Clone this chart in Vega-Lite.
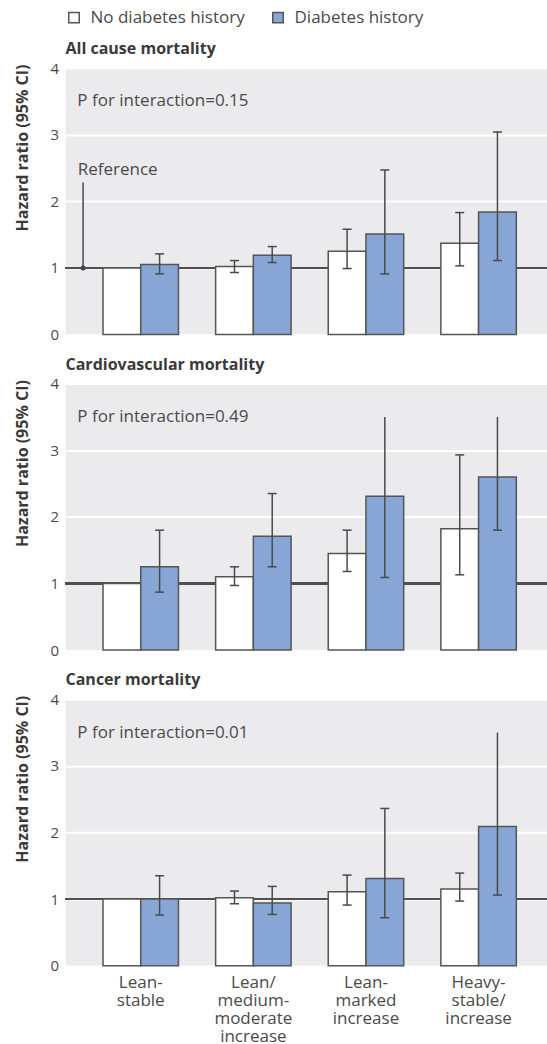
{
  "$schema": "https://vega.github.io/schema/vega-lite/v6.json",
  "padding": {"left": 14.5, "top": 9, "right": 0, "bottom": 0},
  "background": "white",
  "config": {
    "font": "Open Sans",
    "view": {"fill": "#ebebee", "stroke": null},
    "axis": {"labelFont": "Open Sans", "titleFont": "Open Sans"},
    "axisY": {"grid": true, "gridColor": "white", "gridWidth": 2, "ticks": false, "domain": false, "labelFontSize": 15, "labelColor": "#4a4a4a", "labelPadding": 7, "titleFontSize": 16, "titleFontWeight": "bold", "titleColor": "#3a3a3a", "titleAnchor": "end", "titleY": -4, "titlePadding": 19},
    "title": {"font": "Open Sans", "fontSize": 16, "fontWeight": "bold", "color": "#3a3a3a", "anchor": "start", "frame": "group", "baseline": "alphabetic", "offset": 0},
    "legend": {"labelFont": "Open Sans"}
  },
  "datasets": {
    "hr": [
      {"cause": "All cause mortality", "trajectory": "Lean-stable", "history": "No diabetes history", "hr": 1.0, "lo": null, "hi": null, "trunc": false},
      {"cause": "All cause mortality", "trajectory": "Lean-stable", "history": "Diabetes history", "hr": 1.05, "lo": 0.91, "hi": 1.21, "trunc": false},
      {"cause": "All cause mortality", "trajectory": "Lean/medium-moderate increase", "history": "No diabetes history", "hr": 1.02, "lo": 0.93, "hi": 1.11, "trunc": false},
      {"cause": "All cause mortality", "trajectory": "Lean/medium-moderate increase", "history": "Diabetes history", "hr": 1.19, "lo": 1.08, "hi": 1.32, "trunc": false},
      {"cause": "All cause mortality", "trajectory": "Lean-marked increase", "history": "No diabetes history", "hr": 1.25, "lo": 0.99, "hi": 1.58, "trunc": false},
      {"cause": "All cause mortality", "trajectory": "Lean-marked increase", "history": "Diabetes history", "hr": 1.51, "lo": 0.91, "hi": 2.47, "trunc": false},
      {"cause": "All cause mortality", "trajectory": "Heavy-stable/increase", "history": "No diabetes history", "hr": 1.37, "lo": 1.03, "hi": 1.83, "trunc": false},
      {"cause": "All cause mortality", "trajectory": "Heavy-stable/increase", "history": "Diabetes history", "hr": 1.84, "lo": 1.11, "hi": 3.04, "trunc": false},
      {"cause": "Cardiovascular mortality", "trajectory": "Lean-stable", "history": "No diabetes history", "hr": 1.0, "lo": null, "hi": null, "trunc": false},
      {"cause": "Cardiovascular mortality", "trajectory": "Lean-stable", "history": "Diabetes history", "hr": 1.25, "lo": 0.87, "hi": 1.8, "trunc": false},
      {"cause": "Cardiovascular mortality", "trajectory": "Lean/medium-moderate increase", "history": "No diabetes history", "hr": 1.1, "lo": 0.97, "hi": 1.25, "trunc": false},
      {"cause": "Cardiovascular mortality", "trajectory": "Lean/medium-moderate increase", "history": "Diabetes history", "hr": 1.71, "lo": 1.25, "hi": 2.35, "trunc": false},
      {"cause": "Cardiovascular mortality", "trajectory": "Lean-marked increase", "history": "No diabetes history", "hr": 1.45, "lo": 1.18, "hi": 1.8, "trunc": false},
      {"cause": "Cardiovascular mortality", "trajectory": "Lean-marked increase", "history": "Diabetes history", "hr": 2.31, "lo": 1.09, "hi": 3.5, "trunc": true},
      {"cause": "Cardiovascular mortality", "trajectory": "Heavy-stable/increase", "history": "No diabetes history", "hr": 1.82, "lo": 1.13, "hi": 2.93, "trunc": false},
      {"cause": "Cardiovascular mortality", "trajectory": "Heavy-stable/increase", "history": "Diabetes history", "hr": 2.6, "lo": 1.8, "hi": 3.5, "trunc": true},
      {"cause": "Cancer mortality", "trajectory": "Lean-stable", "history": "No diabetes history", "hr": 1.0, "lo": null, "hi": null, "trunc": false},
      {"cause": "Cancer mortality", "trajectory": "Lean-stable", "history": "Diabetes history", "hr": 1.0, "lo": 0.76, "hi": 1.35, "trunc": false},
      {"cause": "Cancer mortality", "trajectory": "Lean/medium-moderate increase", "history": "No diabetes history", "hr": 1.02, "lo": 0.93, "hi": 1.12, "trunc": false},
      {"cause": "Cancer mortality", "trajectory": "Lean/medium-moderate increase", "history": "Diabetes history", "hr": 0.94, "lo": 0.77, "hi": 1.19, "trunc": false},
      {"cause": "Cancer mortality", "trajectory": "Lean-marked increase", "history": "No diabetes history", "hr": 1.11, "lo": 0.91, "hi": 1.36, "trunc": false},
      {"cause": "Cancer mortality", "trajectory": "Lean-marked increase", "history": "Diabetes history", "hr": 1.31, "lo": 0.72, "hi": 2.36, "trunc": false},
      {"cause": "Cancer mortality", "trajectory": "Heavy-stable/increase", "history": "No diabetes history", "hr": 1.15, "lo": 0.97, "hi": 1.39, "trunc": false},
      {"cause": "Cancer mortality", "trajectory": "Heavy-stable/increase", "history": "Diabetes history", "hr": 2.09, "lo": 1.06, "hi": 3.5, "trunc": true}
    ],
    "notes": [
      {"cause": "All cause mortality", "note": "P for interaction=0.15", "trajectory": "Lean-stable"},
      {"cause": "Cardiovascular mortality", "note": "P for interaction=0.49", "trajectory": "Lean-stable"},
      {"cause": "Cancer mortality", "note": "P for interaction=0.01", "trajectory": "Lean-stable"}
    ],
    "ref": [
      {"cause": "All cause mortality", "trajectory": "Lean-stable", "label": "Reference", "base": 1.0, "top": 2.28, "textpos": 2.4}
    ]
  },
  "bounds": "flush",
  "spacing": 48.6,
  "vconcat": [
    {
      "width": 482, "height": 266.5,
      "title": {"text": "All cause mortality"},
      "layer": [
        {"data": {"name": "hr"}, "mark": {"type": "rule", "color": "#505050", "strokeWidth": 1.5}, "encoding": {"y": {"datum": 1, "type": "quantitative", "scale": {"domain": [0, 4]}, "axis": {"title": "Hazard ratio (95% CI)", "values": [0, 1, 2, 3, 4], "format": "d"}}}},
        {"data": {"name": "hr"}, "transform": [{"filter": "datum.cause == 'All cause mortality'"}], "mark": {"type": "bar", "stroke": "#555555", "strokeWidth": 1.5},
         "encoding": {
           "x": {"field": "trajectory", "type": "nominal", "sort": ["Lean-stable", "Lean/medium-moderate increase", "Lean-marked increase", "Heavy-stable/increase"], "scale": {"paddingInner": 0.33, "paddingOuter": 0.305, "align": 0.546}, "axis": null},
           "xOffset": {"field": "history", "type": "nominal", "sort": ["No diabetes history", "Diabetes history"], "scale": {"paddingInner": 0, "paddingOuter": 0}},
           "y": {"field": "hr", "type": "quantitative"},
           "fill": {"field": "history", "type": "nominal", "sort": ["No diabetes history", "Diabetes history"], "scale": {"domain": ["No diabetes history", "Diabetes history"], "range": ["#ffffff", "#87a6d6"]},
             "legend": {"orient": "top", "title": null, "labelFontSize": 17, "labelColor": "#4a4a4a", "symbolType": "square", "symbolSize": 110, "symbolStrokeColor": "#555555", "symbolStrokeWidth": 1.5, "labelOffset": 8, "columnPadding": 24, "offset": 15}}
         }},
        {"data": {"name": "hr"}, "transform": [{"filter": "datum.cause == 'All cause mortality' && datum.lo != null"}], "mark": {"type": "rule", "color": "#4a4a4a", "strokeWidth": 1.5},
         "encoding": {
           "x": {"field": "trajectory", "type": "nominal", "sort": ["Lean-stable", "Lean/medium-moderate increase", "Lean-marked increase", "Heavy-stable/increase"]},
           "xOffset": {"field": "history", "type": "nominal", "sort": ["No diabetes history", "Diabetes history"]},
           "y": {"field": "lo", "type": "quantitative"}, "y2": {"field": "hi"}
         }},
        {"data": {"name": "hr"}, "transform": [{"filter": "datum.cause == 'All cause mortality' && datum.lo != null"}], "mark": {"type": "tick", "orient": "horizontal", "color": "#4a4a4a", "size": 9, "thickness": 1.5, "opacity": 1},
         "encoding": {
           "x": {"field": "trajectory", "type": "nominal", "sort": ["Lean-stable", "Lean/medium-moderate increase", "Lean-marked increase", "Heavy-stable/increase"]},
           "xOffset": {"field": "history", "type": "nominal", "sort": ["No diabetes history", "Diabetes history"]},
           "y": {"field": "lo", "type": "quantitative"}
         }},
        {"data": {"name": "hr"}, "transform": [{"filter": "datum.cause == 'All cause mortality' && datum.hi != null && !datum.trunc"}], "mark": {"type": "tick", "orient": "horizontal", "color": "#4a4a4a", "size": 9, "thickness": 1.5, "opacity": 1},
         "encoding": {
           "x": {"field": "trajectory", "type": "nominal", "sort": ["Lean-stable", "Lean/medium-moderate increase", "Lean-marked increase", "Heavy-stable/increase"]},
           "xOffset": {"field": "history", "type": "nominal", "sort": ["No diabetes history", "Diabetes history"]},
           "y": {"field": "hi", "type": "quantitative"}
         }},
        {"data": {"name": "notes"}, "transform": [{"filter": "datum.cause == 'All cause mortality'"}], "mark": {"type": "text", "align": "left", "baseline": "middle", "fontSize": 17, "color": "#4a4a4a"},
         "encoding": {
           "x": {"field": "trajectory", "type": "nominal", "bandPosition": -0.34, "sort": ["Lean-stable", "Lean/medium-moderate increase", "Lean-marked increase", "Heavy-stable/increase"]},
           "y": {"datum": 3.5, "type": "quantitative"},
           "text": {"field": "note"}
         }},
        {"data": {"name": "ref"}, "mark": {"type": "rule", "color": "#4a4a4a", "strokeWidth": 1.5},
         "encoding": {
           "x": {"field": "trajectory", "type": "nominal", "bandPosition": -0.264, "sort": ["Lean-stable", "Lean/medium-moderate increase", "Lean-marked increase", "Heavy-stable/increase"]},
           "y": {"field": "base", "type": "quantitative"}, "y2": {"field": "top"}
         }},
        {"data": {"name": "ref"}, "mark": {"type": "point", "filled": true, "color": "#444444", "size": 25, "opacity": 1},
         "encoding": {
           "x": {"field": "trajectory", "type": "nominal", "bandPosition": -0.264, "sort": ["Lean-stable", "Lean/medium-moderate increase", "Lean-marked increase", "Heavy-stable/increase"]},
           "y": {"field": "base", "type": "quantitative"}
         }},
        {"data": {"name": "ref"}, "mark": {"type": "text", "align": "left", "baseline": "alphabetic", "fontSize": 17, "color": "#4a4a4a"},
         "encoding": {
           "x": {"field": "trajectory", "type": "nominal", "bandPosition": -0.336, "sort": ["Lean-stable", "Lean/medium-moderate increase", "Lean-marked increase", "Heavy-stable/increase"]},
           "y": {"field": "textpos", "type": "quantitative"},
           "text": {"field": "label"}
         }}
      ]
    },
    {
      "width": 482, "height": 266.5,
      "title": {"text": "Cardiovascular mortality"},
      "layer": [
        {"data": {"name": "hr"}, "mark": {"type": "rule", "color": "#505050", "strokeWidth": 1.5}, "encoding": {"y": {"datum": 1, "type": "quantitative", "scale": {"domain": [0, 4]}, "axis": {"title": "Hazard ratio (95% CI)", "values": [0, 1, 2, 3, 4], "format": "d"}}}},
        {"data": {"name": "hr"}, "transform": [{"filter": "datum.cause == 'Cardiovascular mortality'"}], "mark": {"type": "bar", "stroke": "#555555", "strokeWidth": 1.5},
         "encoding": {
           "x": {"field": "trajectory", "type": "nominal", "sort": ["Lean-stable", "Lean/medium-moderate increase", "Lean-marked increase", "Heavy-stable/increase"], "scale": {"paddingInner": 0.33, "paddingOuter": 0.305, "align": 0.546}, "axis": null},
           "xOffset": {"field": "history", "type": "nominal", "sort": ["No diabetes history", "Diabetes history"], "scale": {"paddingInner": 0, "paddingOuter": 0}},
           "y": {"field": "hr", "type": "quantitative"},
           "fill": {"field": "history", "type": "nominal", "sort": ["No diabetes history", "Diabetes history"]}
         }},
        {"data": {"name": "hr"}, "transform": [{"filter": "datum.cause == 'Cardiovascular mortality' && datum.lo != null"}], "mark": {"type": "rule", "color": "#4a4a4a", "strokeWidth": 1.5},
         "encoding": {
           "x": {"field": "trajectory", "type": "nominal", "sort": ["Lean-stable", "Lean/medium-moderate increase", "Lean-marked increase", "Heavy-stable/increase"]},
           "xOffset": {"field": "history", "type": "nominal", "sort": ["No diabetes history", "Diabetes history"]},
           "y": {"field": "lo", "type": "quantitative"}, "y2": {"field": "hi"}
         }},
        {"data": {"name": "hr"}, "transform": [{"filter": "datum.cause == 'Cardiovascular mortality' && datum.lo != null"}], "mark": {"type": "tick", "orient": "horizontal", "color": "#4a4a4a", "size": 9, "thickness": 1.5, "opacity": 1},
         "encoding": {
           "x": {"field": "trajectory", "type": "nominal", "sort": ["Lean-stable", "Lean/medium-moderate increase", "Lean-marked increase", "Heavy-stable/increase"]},
           "xOffset": {"field": "history", "type": "nominal", "sort": ["No diabetes history", "Diabetes history"]},
           "y": {"field": "lo", "type": "quantitative"}
         }},
        {"data": {"name": "hr"}, "transform": [{"filter": "datum.cause == 'Cardiovascular mortality' && datum.hi != null && !datum.trunc"}], "mark": {"type": "tick", "orient": "horizontal", "color": "#4a4a4a", "size": 9, "thickness": 1.5, "opacity": 1},
         "encoding": {
           "x": {"field": "trajectory", "type": "nominal", "sort": ["Lean-stable", "Lean/medium-moderate increase", "Lean-marked increase", "Heavy-stable/increase"]},
           "xOffset": {"field": "history", "type": "nominal", "sort": ["No diabetes history", "Diabetes history"]},
           "y": {"field": "hi", "type": "quantitative"}
         }},
        {"data": {"name": "notes"}, "transform": [{"filter": "datum.cause == 'Cardiovascular mortality'"}], "mark": {"type": "text", "align": "left", "baseline": "middle", "fontSize": 17, "color": "#4a4a4a"},
         "encoding": {
           "x": {"field": "trajectory", "type": "nominal", "bandPosition": -0.34, "sort": ["Lean-stable", "Lean/medium-moderate increase", "Lean-marked increase", "Heavy-stable/increase"]},
           "y": {"datum": 3.5, "type": "quantitative"},
           "text": {"field": "note"}
         }}
      ]
    },
    {
      "width": 482, "height": 266.5,
      "title": {"text": "Cancer mortality"},
      "layer": [
        {"data": {"name": "hr"}, "mark": {"type": "rule", "color": "#505050", "strokeWidth": 1.5}, "encoding": {"y": {"datum": 1, "type": "quantitative", "scale": {"domain": [0, 4]}, "axis": {"title": "Hazard ratio (95% CI)", "values": [0, 1, 2, 3, 4], "format": "d"}}}},
        {"data": {"name": "hr"}, "transform": [{"filter": "datum.cause == 'Cancer mortality'"}], "mark": {"type": "bar", "stroke": "#555555", "strokeWidth": 1.5},
         "encoding": {
           "x": {"field": "trajectory", "type": "nominal", "sort": ["Lean-stable", "Lean/medium-moderate increase", "Lean-marked increase", "Heavy-stable/increase"], "scale": {"paddingInner": 0.33, "paddingOuter": 0.305, "align": 0.546},
             "axis": {"title": null, "ticks": false, "domain": false, "labelAngle": 0, "labelFontSize": 17, "labelColor": "#4a4a4a", "labelPadding": 9, "labelLineHeight": 18, "labelBaseline": "top",
               "labelExpr": "datum.value == 'Lean-stable' ? ['Lean-', 'stable'] : datum.value == 'Lean/medium-moderate increase' ? ['Lean/', 'medium-', 'moderate', 'increase'] : datum.value == 'Lean-marked increase' ? ['Lean-', 'marked', 'increase'] : ['Heavy-', 'stable/', 'increase']"}},
           "xOffset": {"field": "history", "type": "nominal", "sort": ["No diabetes history", "Diabetes history"], "scale": {"paddingInner": 0, "paddingOuter": 0}},
           "y": {"field": "hr", "type": "quantitative"},
           "fill": {"field": "history", "type": "nominal", "sort": ["No diabetes history", "Diabetes history"]}
         }},
        {"data": {"name": "hr"}, "transform": [{"filter": "datum.cause == 'Cancer mortality' && datum.lo != null"}], "mark": {"type": "rule", "color": "#4a4a4a", "strokeWidth": 1.5},
         "encoding": {
           "x": {"field": "trajectory", "type": "nominal", "sort": ["Lean-stable", "Lean/medium-moderate increase", "Lean-marked increase", "Heavy-stable/increase"]},
           "xOffset": {"field": "history", "type": "nominal", "sort": ["No diabetes history", "Diabetes history"]},
           "y": {"field": "lo", "type": "quantitative"}, "y2": {"field": "hi"}
         }},
        {"data": {"name": "hr"}, "transform": [{"filter": "datum.cause == 'Cancer mortality' && datum.lo != null"}], "mark": {"type": "tick", "orient": "horizontal", "color": "#4a4a4a", "size": 9, "thickness": 1.5, "opacity": 1},
         "encoding": {
           "x": {"field": "trajectory", "type": "nominal", "sort": ["Lean-stable", "Lean/medium-moderate increase", "Lean-marked increase", "Heavy-stable/increase"]},
           "xOffset": {"field": "history", "type": "nominal", "sort": ["No diabetes history", "Diabetes history"]},
           "y": {"field": "lo", "type": "quantitative"}
         }},
        {"data": {"name": "hr"}, "transform": [{"filter": "datum.cause == 'Cancer mortality' && datum.hi != null && !datum.trunc"}], "mark": {"type": "tick", "orient": "horizontal", "color": "#4a4a4a", "size": 9, "thickness": 1.5, "opacity": 1},
         "encoding": {
           "x": {"field": "trajectory", "type": "nominal", "sort": ["Lean-stable", "Lean/medium-moderate increase", "Lean-marked increase", "Heavy-stable/increase"]},
           "xOffset": {"field": "history", "type": "nominal", "sort": ["No diabetes history", "Diabetes history"]},
           "y": {"field": "hi", "type": "quantitative"}
         }},
        {"data": {"name": "notes"}, "transform": [{"filter": "datum.cause == 'Cancer mortality'"}], "mark": {"type": "text", "align": "left", "baseline": "middle", "fontSize": 17, "color": "#4a4a4a"},
         "encoding": {
           "x": {"field": "trajectory", "type": "nominal", "bandPosition": -0.34, "sort": ["Lean-stable", "Lean/medium-moderate increase", "Lean-marked increase", "Heavy-stable/increase"]},
           "y": {"datum": 3.5, "type": "quantitative"},
           "text": {"field": "note"}
         }}
      ]
    }
  ]
}
